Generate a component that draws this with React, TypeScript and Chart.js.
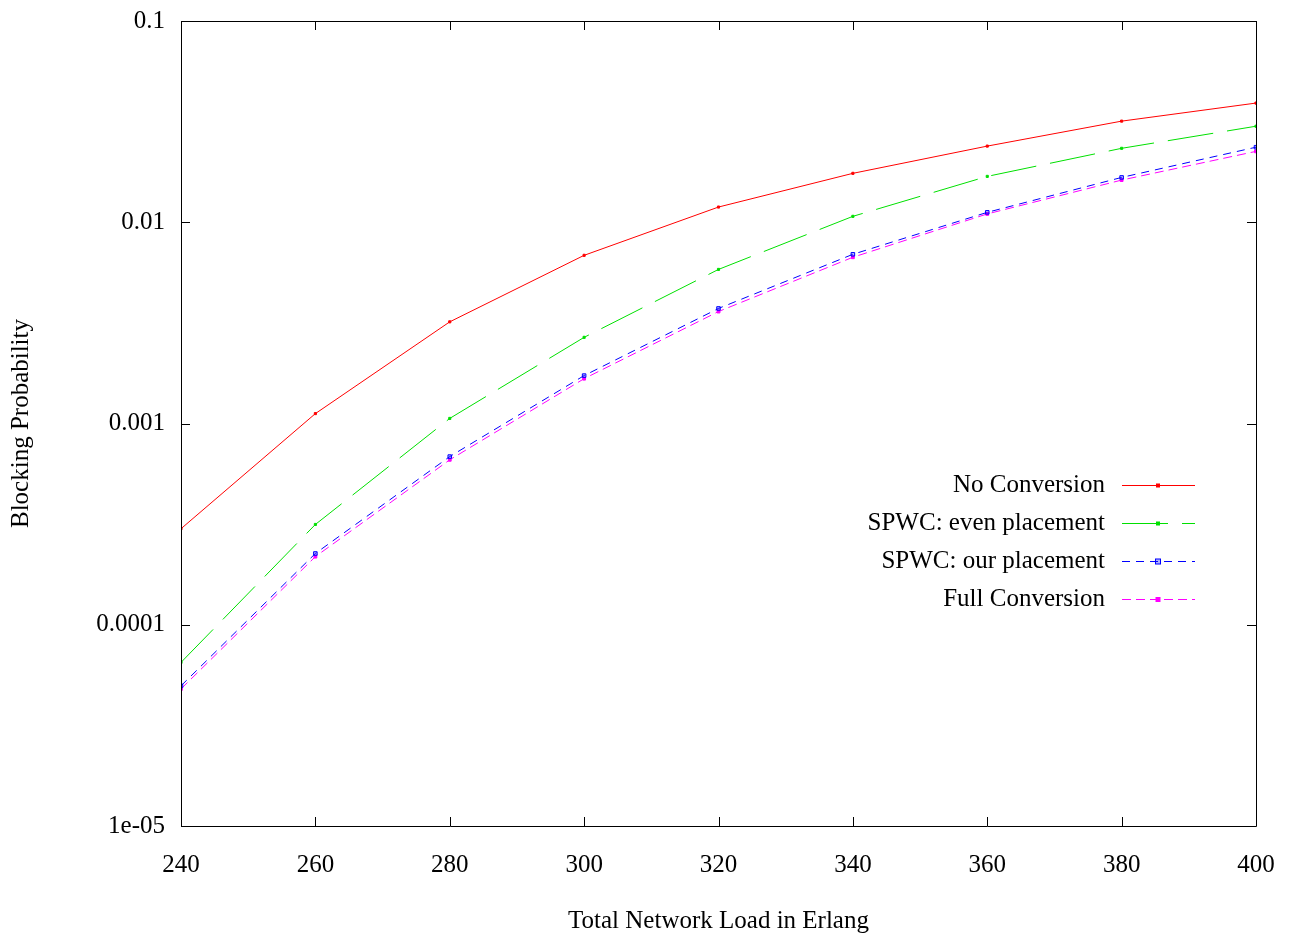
import React, { useEffect, useRef } from "react";
import { Chart, registerables } from "chart.js";

Chart.register(...registerables);

const loads = [240, 260, 280, 300, 320, 340, 360, 380, 400];
const noConversion = [3.0e-4, 1.12e-3, 3.2e-3, 6.85e-3, 0.0119, 0.0175, 0.0239, 0.0318, 0.0391];
const spwcEven = [6.5e-5, 3.15e-4, 1.06e-3, 2.68e-3, 5.83e-3, 0.0107, 0.0169, 0.0233, 0.03];
const spwcOur = [4.97e-5, 2.26e-4, 6.85e-4, 1.73e-3, 3.73e-3, 6.93e-3, 0.0112, 0.0167, 0.0236];
const fullConversion = [4.8e-5, 2.18e-4, 6.6e-4, 1.67e-3, 3.6e-3, 6.7e-3, 0.011, 0.0162, 0.0225];
const yTickValues = [1e-5, 1e-4, 1e-3, 1e-2, 1e-1];
const yTickLabels = ["1e-05", "0.0001", "0.001", "0.01", "0.1"];
const seriesNames = ["No Conversion", "SPWC: even placement", "SPWC: our placement", "Full Conversion"];
const xTitle = "Total Network Load in Erlang";
const yTitle = "Blocking Probability";

const FONT = '"Liberation Serif", "DejaVu Serif", serif';

const framePlugin = {
  id: "gnuFrame",
  afterDatasetsDraw(chart: any) {
    const { ctx, chartArea: a, scales } = chart;
    const tl = 9;
    ctx.save();
    ctx.strokeStyle = "#000";
    ctx.lineWidth = 1;
    ctx.setLineDash([]);
    ctx.beginPath();
    ctx.rect(Math.round(a.left) + 0.5, Math.round(a.top) + 0.5, Math.round(a.right - a.left), Math.round(a.bottom - a.top));
    ctx.stroke();
    ctx.beginPath();
    scales.x.ticks.forEach((t: any) => {
      const px = Math.round(scales.x.getPixelForValue(t.value)) + 0.5;
      ctx.moveTo(px, a.bottom);
      ctx.lineTo(px, a.bottom - tl);
      ctx.moveTo(px, a.top);
      ctx.lineTo(px, a.top + tl);
    });
    scales.y.ticks.forEach((t: any) => {
      const py = Math.round(scales.y.getPixelForValue(t.value)) + 0.5;
      ctx.moveTo(a.left, py);
      ctx.lineTo(a.left + tl, py);
      ctx.moveTo(a.right, py);
      ctx.lineTo(a.right - tl, py);
    });
    ctx.stroke();
    ctx.restore();
  },
  afterDraw(chart: any) {
    const { ctx, chartArea: a } = chart;
    ctx.save();
    ctx.fillStyle = "#000";
    ctx.font = `25px ${FONT}`;
    ctx.textAlign = "center";
    ctx.textBaseline = "middle";
    ctx.fillText(xTitle, (a.left + a.right) / 2, 921);
    ctx.save();
    ctx.translate(21, (a.top + a.bottom) / 2);
    ctx.rotate(-Math.PI / 2);
    ctx.fillText(yTitle, 0, 0);
    ctx.restore();

    // legend
    const rows = [485, 523, 561, 599];
    chart.data.datasets.forEach((ds: any, i: number) => {
      const y = rows[i];
      ctx.fillStyle = "#000";
      ctx.textAlign = "right";
      ctx.fillText(ds.label, 1105, y);
      ctx.strokeStyle = ds.borderColor;
      ctx.lineWidth = 1;
      ctx.setLineDash(ds.borderDash || []);
      ctx.beginPath();
      ctx.moveTo(1122, y + 0.5);
      ctx.lineTo(1195, y + 0.5);
      ctx.stroke();
      ctx.setLineDash([]);
      const r = ds.pointRadius;
      ctx.fillStyle = ds.pointBackgroundColor;
      ctx.fillRect(1158 - r, y - r + 0.5, 2 * r, 2 * r);
      ctx.strokeStyle = ds.pointBorderColor;
      ctx.strokeRect(1158 - r, y - r + 0.5, 2 * r, 2 * r);
    });
    ctx.restore();
  },
};

const zeroPad = (s: any) => {
  s.paddingLeft = 0;
  s.paddingRight = 0;
  s.paddingTop = 0;
  s.paddingBottom = 0;
};

export default function App() {
  const ref = useRef<HTMLCanvasElement | null>(null);
  useEffect(() => {
    if (!ref.current) return;
    const mk = (label: string, data: number[], color: string, dash: number[], r: number, fill: string) => ({
      label,
      data: loads.map((x, i) => ({ x, y: data[i] })),
      borderColor: color,
      backgroundColor: color,
      borderWidth: 1,
      borderDash: dash,
      pointRadius: r,
      pointHoverRadius: r,
      pointStyle: "rect",
      pointBackgroundColor: fill,
      pointBorderColor: color,
      pointBorderWidth: 1,
      tension: 0,
      fill: false,
    });
    const chart = new Chart(ref.current, {
      type: "line",
      data: {
        datasets: [
          mk(seriesNames[0], noConversion, "#ff0000", [], 1.5, "#ff0000"),
          mk(seriesNames[1], spwcEven, "#00e000", [46, 14], 1.5, "#00e000"),
          mk(seriesNames[2], spwcOur, "#0000ff", [8, 6], 2.5, "rgba(0,0,255,0.3)"),
          mk(seriesNames[3], fullConversion, "#ff00ff", [9, 5], 2, "#ff00ff"),
        ] as any,
      },
      options: {
        animation: false,
        responsive: true,
        maintainAspectRatio: false,
        layout: { padding: { top: 21, right: 36, left: 0, bottom: 0 } },
        plugins: { legend: { display: false }, tooltip: { enabled: false } },
        events: [],
        scales: {
          x: {
            type: "linear",
            min: 240,
            max: 400,
            ticks: {
              stepSize: 20,
              color: "#000",
              font: { family: FONT, size: 25 },
              padding: 24,
              maxRotation: 0,
              callback: (v: any) => String(v),
            },
            grid: { display: true, drawOnChartArea: false, drawTicks: false },
            border: { display: false },
            afterFit: (s: any) => {
              s.height = 115;
              zeroPad(s);
            },
          },
          y: {
            type: "logarithmic",
            min: 1e-5,
            max: 0.1,
            afterBuildTicks: (s: any) => {
              s.ticks = yTickValues.map((v) => ({ value: v, major: true }));
            },
            ticks: {
              color: "#000",
              font: { family: FONT, size: 25 },
              padding: 16,
              autoSkip: false,
              callback: (v: any) => {
                const i = yTickValues.findIndex((t) => Math.abs(Math.log10(t) - Math.log10(v)) < 1e-6);
                return i >= 0 ? yTickLabels[i] : "";
              },
            },
            grid: { display: true, drawOnChartArea: false, drawTicks: false },
            border: { display: false },
            afterFit: (s: any) => {
              s.width = 181;
              zeroPad(s);
            },
          },
        },
      },
      plugins: [framePlugin],
    });
    return () => chart.destroy();
  }, []);
  return (
    <div style={{ position: "absolute", left: 0, top: 0, width: 1292, height: 941, background: "#fff" }}>
      <canvas ref={ref} />
    </div>
  );
}
